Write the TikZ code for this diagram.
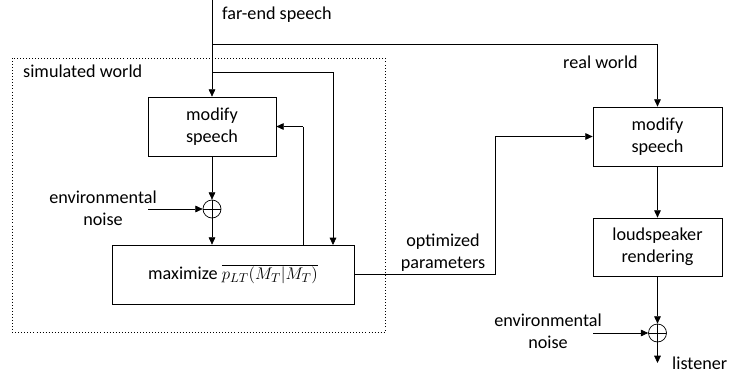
\documentclass[tikz,border=0pt]{standalone}
\usepackage{fontspec}
\setmainfont{Carlito}
\usepackage{tikz}
\usepackage{xcolor}
\usetikzlibrary{arrows.meta}
\usetikzlibrary{positioning}

\tikzset{
	blockbox/.style={draw, line width=0.6pt, minimum width=3.84cm, minimum height=1.77cm, align=center},
	sumnode/.style={draw, circle, line width=0.6pt, minimum size=0.54cm, inner sep=0pt,
		path picture={\draw[line width=0.6pt] (path picture bounding box.north) -- (path picture bounding box.south)
			(path picture bounding box.west) -- (path picture bounding box.east);}},
	wire/.style={-, draw, line width=0.6pt},
	feed/.style={-{Triangle[length=2.2mm,width=2mm]}, draw, line width=0.6pt},
	lbl/.style={align=center, inner sep=0pt}
}

\begin{document}
\begin{tikzpicture}[font=\fontsize{15.5}{19}\selectfont]
			\useasboundingbox (0,0) rectangle (21.870, -11.250);
			% simulated world
			\draw[dotted, line width=0.6pt] (0.360, -1.740) rectangle (11.550, -9.960);
			\node[lbl, anchor=west] (101) at ( 0.690, -2.130) {simulated world};
			\coordinate (100) at ( 6.360,  0.000);
			\node[lbl, anchor=west] (102) at ( 6.660, -0.450) {far-end speech};
			\node[blockbox] (103) at ( 6.360, -3.795) {modify\\speech};
			\node[sumnode] (104) at ( 6.360, -6.270) {};
			\node[lbl] (105) at ( 3.090, -6.240) {environmental\\noise};
			\coordinate (106) at ( 4.440, -6.270);
			\node[blockbox, minimum width=7.26cm] (107) at ( 6.990, -8.235) {maximize $\overline{p_{LT}(M_T|M_T)}$};
			\coordinate (108) at ( 6.360, -1.320);
			\coordinate (109) at ( 6.360, -2.160);
			\coordinate (110) at ( 9.990, -2.160);
			\coordinate (111) at ( 9.990, -7.350);
			\coordinate (112) at ( 9.090, -7.350);
			\coordinate (113) at ( 9.090, -3.795);
			% real world
			\node[lbl, anchor=east] (201) at (19.140, -1.860) {real world};
			\node[blockbox, minimum width=3.87cm] (202) at (19.725, -4.095) {modify\\speech};
			\node[blockbox, minimum width=3.87cm, minimum height=1.74cm] (203) at (19.725, -7.410) {loudspeaker\\rendering};
			\node[sumnode] (204) at (19.725, -9.990) {};
			\node[lbl] (205) at (16.440, -9.930) {environmental\\noise};
			\coordinate (206) at (17.790, -9.990);
			\coordinate (207) at (19.725, -10.890);
			\node[lbl, anchor=west] (208) at (20.160, -10.890) {listener};
			\node[lbl] (209) at (13.290, -7.590) {optimized\\parameters};
			\coordinate (210) at (19.725, -1.320);
			\coordinate (211) at (14.850, -8.235);
			\coordinate (212) at (14.850, -4.095);
			% connectors
			\draw[feed] (100) to (103.north);
			\draw[wire] (108) to (210);
			\draw[feed] (210) to (202.north);
			\draw[wire] (109) to (110);
			\draw[feed] (110) to (111);
			\draw[feed] (103.south) to (104.north);
			\draw[feed] (106) to (104.west);
			\draw[feed] (104.south) to (107.north -| 104);
			\draw[wire] (112) to (113);
			\draw[feed] (113) to (103.east);
			\draw[wire] (107.east) to (211);
			\draw[wire] (211) to (212);
			\draw[feed] (212) to (202.west);
			\draw[feed] (202.south) to (203.north);
			\draw[feed] (203.south) to (204.north);
			\draw[feed] (206) to (204.west);
			\draw[feed] (204.south) to (207);
		\end{tikzpicture}
\end{document}
